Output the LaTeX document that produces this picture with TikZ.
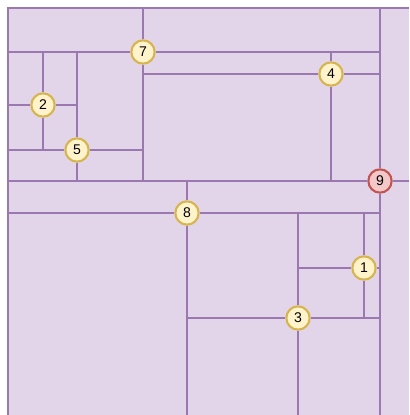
\documentclass[tikz,border=0pt]{standalone}
\usepackage{fontspec}
\setmainfont{Liberation Sans}
\definecolor{cellbg}{HTML}{E3D5E9}
\definecolor{cutline}{HTML}{9B78B0}
\definecolor{ptfill}{HTML}{FFF3CC}
\definecolor{ptdraw}{HTML}{D6B54E}
\definecolor{rootfill}{HTML}{F4C8C8}
\definecolor{rootdraw}{HTML}{C05552}
\begin{document}
\begin{tikzpicture}
[x=0.03cm, y=-0.03cm, font=\fontsize{12}{14}\selectfont]
\tikzstyle{cut}=[draw=cutline, line width=1.7pt]
\tikzstyle{point}=[circle, draw=ptdraw, fill=ptfill, line width=1.8pt, inner sep=0mm, minimum size=0.7cm]
\tikzstyle{rootpoint}=[point, draw=rootdraw, fill=rootfill]
\useasboundingbox (0,0) rectangle (409,415);
\fill[cellbg] (8,8) rectangle (409,415);
\draw[cut] (409,8) -- (8,8) -- (8,415);

\node[rootpoint] (n9) at (380,181) {9};
\node[point]     (n8) at (187,213) {8};
\node[point]     (n7) at (143,52)  {7};
\node[point]     (n5) at (77,150)  {5};
\node[point]     (n4) at (331,74)  {4};
\node[point]     (n3) at (298,318) {3};
\node[point]     (n2) at (43,105)  {2};
\node[point]     (n1) at (364,268) {1};

\draw[cut] (380,8) -- (n9) -- (380,415);
\draw[cut] (8,181) -- (n9) -- (409,181);
\draw[cut] (8,52) -- (n7) -- (380,52);
\draw[cut] (143,8) -- (n7) -- (143,181);
\draw[cut] (143,74) -- (n4) -- (380,74);
\draw[cut] (331,52) -- (n4) -- (331,181);
\draw[cut] (77,52) -- (n5) -- (77,181);
\draw[cut] (8,150) -- (n5) -- (143,150);
\draw[cut] (43,52) -- (n2) -- (43,150);
\draw[cut] (8,105) -- (n2) -- (77,105);
\draw[cut] (187,181) -- (n8) -- (187,415);
\draw[cut] (8,213) -- (n8) -- (380,213);
\draw[cut] (298,213) -- (n3) -- (298,415);
\draw[cut] (187,318) -- (n3) -- (380,318);
\draw[cut] (364,213) -- (n1) -- (364,318);
\draw[cut] (298,268) -- (n1) -- (380,268);
\end{tikzpicture}
\end{document}
